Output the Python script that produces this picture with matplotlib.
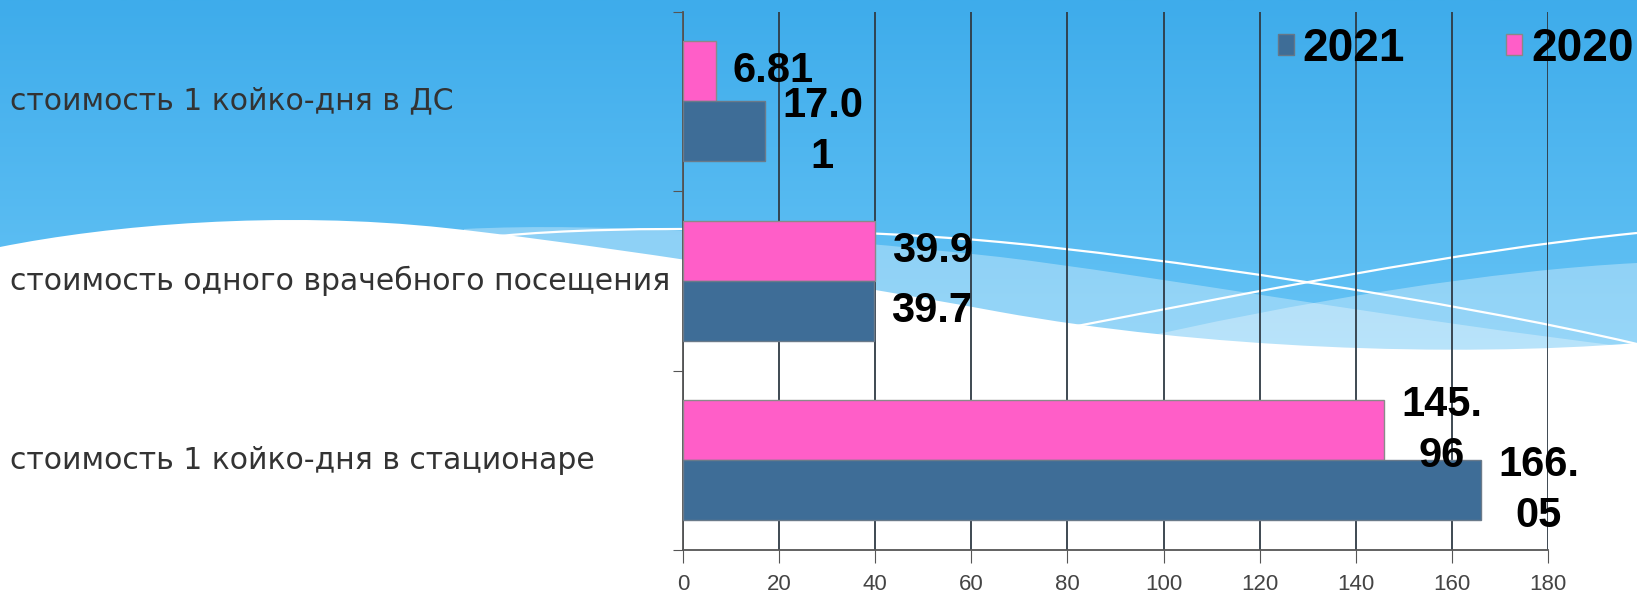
import numpy as np
import matplotlib
matplotlib.use("Agg")
import matplotlib.pyplot as plt
from matplotlib.patches import Patch, PathPatch
from matplotlib.path import Path
from matplotlib import transforms

# data (top to bottom as drawn)
categories = ["стоимость 1 койко-дня в ДС",
              "стоимость одного врачебного посещения",
              "стоимость 1 койко-дня в стационаре"]
values_2020 = [6.81, 39.9, 145.96]
values_2021 = [17.01, 39.7, 166.05]
series_names = ["2021", "2020"]

color_2021 = "#3E6D97"
color_2020 = "#FF5EC8"
lab_font = ["Liberation Sans", "DejaVu Sans"]

W, H = 1637, 595
fig = plt.figure(figsize=(W / 100, H / 100), dpi=100)

# slide background: blue gradient with white wave
bg = fig.add_axes([0, 0, 1, 1], zorder=0)
bg.set_xlim(0, W)
bg.set_ylim(H, 0)
bg.axis("off")
top = np.array([0x3E, 0xAC, 0xEB]) / 255
bot = np.array([0x6C, 0xC7, 0xF7]) / 255
t = np.clip(np.linspace(0, 1.5, 300), 0, 1)[:, None, None]
grad = top * (1 - t) + bot * t
bg.imshow(grad, extent=[0, W, H, 0], aspect="auto", zorder=0)

C4 = Path.CURVE4
band_a = Path([(464, 229), (600, 222), (800, 235), (1000, 257),
               (1150, 275), (1400, 320), (W, 348),
               (W, 420), (464, 420), (464, 229)],
              [Path.MOVETO, C4, C4, C4, C4, C4, C4,
               Path.LINETO, Path.LINETO, Path.CLOSEPOLY])
band_b = Path([(1110, 345), (1300, 300), (1500, 270), (W, 263),
               (W, 420), (1110, 420), (1110, 345)],
              [Path.MOVETO, C4, C4, C4, Path.LINETO, Path.LINETO, Path.CLOSEPOLY])
for p in (band_a, band_b):
    bg.add_patch(PathPatch(p, facecolor="white", alpha=0.32, edgecolor="none", zorder=1))

wave = Path([(0, 247), (110, 225), (280, 210), (446, 228),
             (560, 240), (800, 275), (1000, 312),
             (1200, 348), (1450, 358), (W, 343),
             (W, H), (0, H), (0, 247)],
            [Path.MOVETO, C4, C4, C4, C4, C4, C4, C4, C4, C4,
             Path.LINETO, Path.LINETO, Path.CLOSEPOLY])
bg.add_patch(PathPatch(wave, facecolor="white", edgecolor="none", zorder=2))

line1 = Path([(500, 236), (620, 224), (850, 228), (1000, 242),
              (1150, 256), (1450, 300), (W, 344)],
             [Path.MOVETO, C4, C4, C4, C4, C4, C4])
line2 = Path([(1077, 326), (1250, 293), (1450, 252), (W, 233)],
             [Path.MOVETO, C4, C4, C4])
for p in (line1, line2):
    bg.add_patch(PathPatch(p, facecolor="none", edgecolor="white", lw=1.6, zorder=3))

# chart
ax = fig.add_axes([683 / W, 1 - 550 / H, (1548 - 683) / W, (550 - 11.5) / H], zorder=1)
ax.patch.set_alpha(0)
n = len(categories)
y = np.arange(n)[::-1]
h = 1 / 3
ax.barh(y + h / 2, values_2020, height=h, color=color_2020, edgecolor="#8a8a8a", lw=1, zorder=3)
ax.barh(y - h / 2, values_2021, height=h, color=color_2021, edgecolor="#6a7a8a", lw=1, zorder=3)

ax.set_xlim(0, 180)
ax.set_ylim(-0.5, n - 0.5)
ax.set_xticks(range(0, 181, 20))
ax.xaxis.grid(True, color="#2f3a44", lw=1.3)
ax.set_axisbelow(True)
ax.set_yticks(np.arange(-0.5, n, 1))
ax.set_yticklabels([])
ax.tick_params(axis="y", length=7, color="#555")
ax.tick_params(axis="x", length=9, pad=8, color="#555", labelcolor="#444", labelsize=16)
for lab in ax.get_xticklabels():
    lab.set_family(lab_font)
for s in ("top", "right"):
    ax.spines[s].set_visible(False)
for s in ("left", "bottom"):
    ax.spines[s].set_color("#555")
    ax.spines[s].set_linewidth(1.3)

# category labels at the left edge of the slide
tr = transforms.blended_transform_factory(fig.transFigure, ax.transData)
for yi, name in zip(y, categories):
    ax.text(0.0064, yi, name, transform=tr, ha="left", va="center",
            fontsize=21.5, color="#333333")


def wrap4(v):
    s = f"{v:g}"
    return "\n".join(s[i:i + 4] for i in range(0, len(s), 4))


for yi, v20, v21 in zip(y, values_2020, values_2021):
    for yy, v in ((yi + h / 2, v20), (yi - h / 2, v21)):
        ax.text(v + 12, yy, wrap4(v), ha="center", va="center", multialignment="center",
                fontsize=30, fontweight="bold", family=lab_font, linespacing=1.35,
                color="black", zorder=5)

handles = [Patch(facecolor=color_2021, edgecolor="#667788", label=series_names[0]),
           Patch(facecolor=color_2020, edgecolor="#888888", label=series_names[1])]
fig.legend(handles=handles, loc="center right", bbox_to_anchor=(0.998, 0.918), ncol=2,
           frameon=False, prop={"weight": "bold", "size": 33, "family": lab_font},
           handlelength=0.35, handleheight=0.35, handletextpad=0.2,
           columnspacing=2.2, borderpad=0, borderaxespad=0)

fig.savefig("out.png", dpi=100)
